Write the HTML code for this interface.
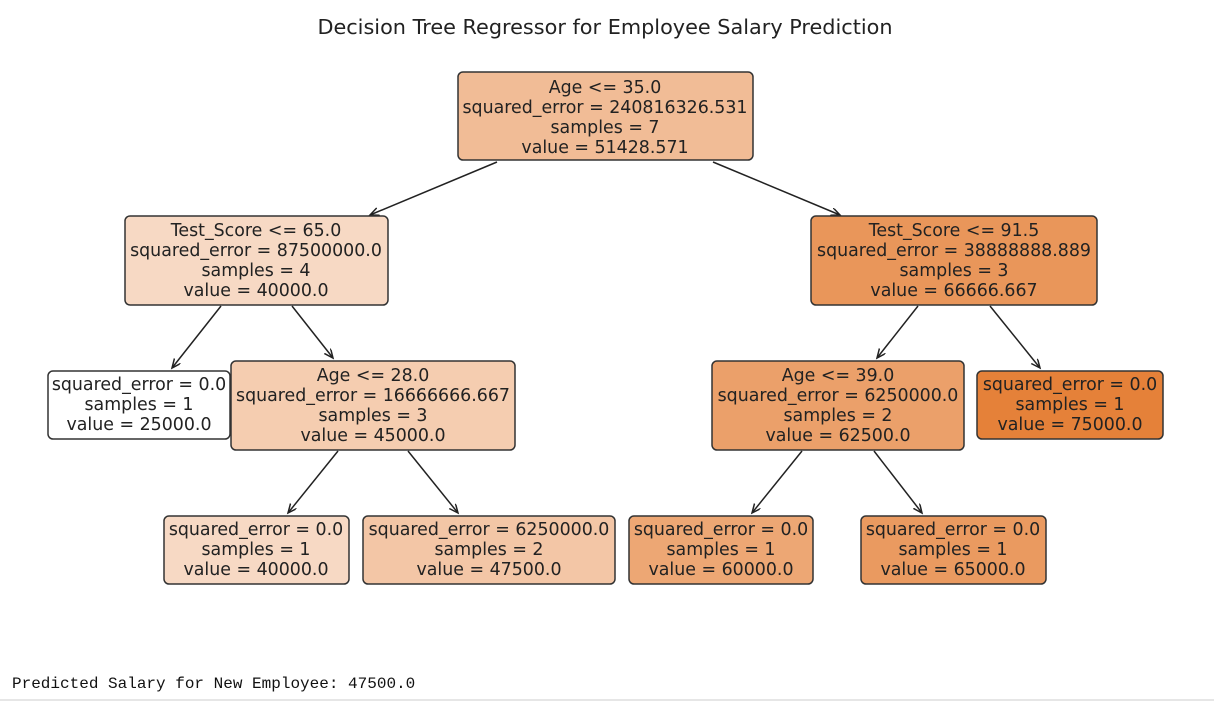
<!DOCTYPE html>
<html><head><meta charset="utf-8"><style>
html,body{margin:0;padding:0;background:#fff;width:1214px;height:702px;overflow:hidden}
svg{display:block}
text{font-family:"DejaVu Sans",sans-serif;font-size:17.4px;fill:#222;text-anchor:middle}
.bx{stroke:#333;stroke-width:1.5}
.ar{stroke:#222;stroke-width:1.5;fill:none}
</style></head><body>
<svg width="1214" height="702" viewBox="0 0 1214 702">
<defs><marker id="a" markerWidth="12" markerHeight="12" refX="9" refY="4" orient="auto" markerUnits="userSpaceOnUse"><path d="M0,0 L9,4 L0,8" fill="none" stroke="#222" stroke-width="1.5"/></marker></defs>
<text x="605" y="34" style="font-size:20.8px">Decision Tree Regressor for Employee Salary Prediction</text>

<g class="ar">
<line x1="497" y1="162" x2="370" y2="215" marker-end="url(#a)"/>
<line x1="713" y1="162" x2="840" y2="215" marker-end="url(#a)"/>
<line x1="221" y1="306" x2="172" y2="368" marker-end="url(#a)"/>
<line x1="292" y1="306" x2="333" y2="358" marker-end="url(#a)"/>
<line x1="338" y1="451" x2="288" y2="513" marker-end="url(#a)"/>
<line x1="408" y1="451" x2="458" y2="513" marker-end="url(#a)"/>
<line x1="918" y1="306" x2="877" y2="358" marker-end="url(#a)"/>
<line x1="990" y1="306" x2="1040" y2="368" marker-end="url(#a)"/>
<line x1="802" y1="451" x2="752" y2="513" marker-end="url(#a)"/>
<line x1="874" y1="451" x2="922" y2="513" marker-end="url(#a)"/>
</g>

<rect class="bx" x="458" y="72" width="295" height="88" rx="5" fill="#f1bc96"/>
<text x="605" y="93">Age &lt;= 35.0</text><text x="605" y="113">squared_error = 240816326.531</text><text x="605" y="133">samples = 7</text><text x="605" y="153">value = 51428.571</text>

<rect class="bx" x="125" y="216" width="263" height="89" rx="5" fill="#f7d9c4"/>
<text x="256" y="236">Test_Score &lt;= 65.0</text><text x="256" y="256">squared_error = 87500000.0</text><text x="256" y="276">samples = 4</text><text x="256" y="296">value = 40000.0</text>

<rect class="bx" x="811" y="216" width="286" height="89" rx="5" fill="#e9965a"/>
<text x="954" y="236">Test_Score &lt;= 91.5</text><text x="954" y="256">squared_error = 38888888.889</text><text x="954" y="276">samples = 3</text><text x="954" y="296">value = 66666.667</text>

<rect class="bx" x="48" y="371" width="182" height="68" rx="5" fill="#fff"/>
<text x="139" y="390">squared_error = 0.0</text><text x="139" y="410">samples = 1</text><text x="139" y="430">value = 25000.0</text>

<rect class="bx" x="231" y="361" width="284" height="89" rx="5" fill="#f5cdb0"/>
<text x="373" y="381">Age &lt;= 28.0</text><text x="373" y="401">squared_error = 16666666.667</text><text x="373" y="421">samples = 3</text><text x="373" y="441">value = 45000.0</text>

<rect class="bx" x="712" y="361" width="252" height="89" rx="5" fill="#eba06a"/>
<text x="838" y="381">Age &lt;= 39.0</text><text x="838" y="401">squared_error = 6250000.0</text><text x="838" y="421">samples = 2</text><text x="838" y="441">value = 62500.0</text>

<rect class="bx" x="977" y="371" width="186" height="68" rx="5" fill="#e58139"/>
<text x="1070" y="390">squared_error = 0.0</text><text x="1070" y="410">samples = 1</text><text x="1070" y="430">value = 75000.0</text>

<rect class="bx" x="164" y="516" width="185" height="68" rx="5" fill="#f7d9c4"/>
<text x="256" y="535">squared_error = 0.0</text><text x="256" y="555">samples = 1</text><text x="256" y="575">value = 40000.0</text>

<rect class="bx" x="363" y="516" width="252" height="68" rx="5" fill="#f3c6a6"/>
<text x="489" y="535">squared_error = 6250000.0</text><text x="489" y="555">samples = 2</text><text x="489" y="575">value = 47500.0</text>

<rect class="bx" x="629" y="516" width="184" height="68" rx="5" fill="#eda774"/>
<text x="721" y="535">squared_error = 0.0</text><text x="721" y="555">samples = 1</text><text x="721" y="575">value = 60000.0</text>

<rect class="bx" x="861" y="516" width="185" height="68" rx="5" fill="#ea9a60"/>
<text x="953" y="535">squared_error = 0.0</text><text x="953" y="555">samples = 1</text><text x="953" y="575">value = 65000.0</text>

<text x="12" y="688" style="font-family:'Liberation Mono',monospace;font-size:16px;text-anchor:start;fill:#111">Predicted Salary for New Employee: 47500.0</text>
<rect x="0" y="699" width="1214" height="2" fill="#e6e6e6"/>
</svg>
</body></html>
